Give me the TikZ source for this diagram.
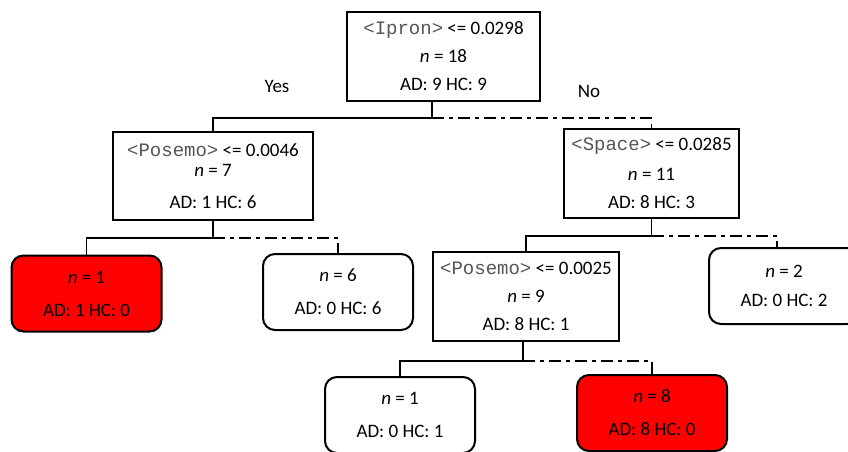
\documentclass[tikz,border=0pt]{standalone}
\usepackage{fontspec}
\setmainfont{Carlito}
\setmonofont{Liberation Mono}
\usepackage{xcolor}
\definecolor{leafred}{RGB}{255, 0, 0}
\definecolor{vargray}{RGB}{85, 85, 85}
\usepackage{tikz}
\usetikzlibrary{calc}
\newcommand{\feat}[1]{{\ttfamily\color{vargray}<#1>}}

\begin{document}
\begin{tikzpicture}[x=0.5pt, y=-0.5pt,
      splitbox/.style={rectangle, draw=black, line width=1pt, fill=white, align=center, font=\fontsize{9.5}{14}\selectfont},
      leafw/.style={rectangle, rounded corners=6pt, draw=black, line width=1pt, fill=white, align=center, font=\fontsize{9.5}{14}\selectfont, minimum width=75pt, minimum height=38pt},
      leafr/.style={leafw, fill=leafred},
      yesline/.style={line width=0.6pt},
      noline/.style={line width=0.6pt, dash pattern=on 6pt off 2.5pt on 2pt off 2.5pt},
      lbl/.style={font=\fontsize{9.5}{12}\selectfont}
  ]
    \useasboundingbox (0,0) rectangle (848,451);

    % Splits
    \node[splitbox, minimum width=96.5pt, minimum height=44.5pt] (root) at (443.5, 56.5) {\feat{Ipron} <= 0.0298\\ \textit{n} = 18\\ AD: 9 HC: 9};
    \node[splitbox, minimum width=100pt, minimum height=44pt] (posA) at (213, 176) {\feat{Posemo} <= 0.0046\\[-4pt] \textit{n} = 7\\[2pt] AD: 1 HC: 6};
    \node[splitbox, minimum width=87.5pt, minimum height=44.5pt] (space) at (651.5, 173.5) {\feat{Space} <= 0.0285\\[1pt] \textit{n} = 11\\ AD: 8 HC: 3};
    \node[splitbox, minimum width=89pt, minimum height=44.5pt] (posB) at (526, 296.5) {\feat{Posemo} <= 0.0025\\ \textit{n} = 9\\ AD: 8 HC: 1};

    % Leaves
    \node[leafr] (l1) at (86.5, 293.5) {\textit{n} = 1\\[2.5pt] AD: 1 HC: 0};
    \node[leafw] (l2) at (338, 292) {\textit{n} = 6\\[2.5pt] AD: 0 HC: 6};
    \node[leafw] (l3) at (784, 286) {\textit{n} = 2\\[0.5pt] AD: 0 HC: 2};
    \node[leafw] (l4) at (400, 415) {\textit{n} = 1\\[2.5pt] AD: 0 HC: 1};
    \node[leafr] (l5) at (652, 413) {\textit{n} = 8\\[2.5pt] AD: 8 HC: 0};

    % Branch labels
    \node[lbl] (yes) at (277, 86) {Yes};
    \node[lbl] (no) at (589, 91) {No};

    % Connections
    \coordinate (rj) at (432, 118);
    \draw[yesline] (root.south -| rj) -- (rj) -| (posA.north);
    \draw[noline] (rj) -| (space.north);
    \coordinate (aj) at ($(posA.south)+(0,17)$);
    \draw[yesline] (posA.south) -- (aj) -| (l1.north);
    \draw[noline] (aj) -| (l2.north);
    \coordinate (sj) at ($(space.south)+(0,17)$);
    \draw[yesline] (space.south) -- (sj) -| (posB.north);
    \draw[noline] (sj) -| ($(l3.north)+(-7,0)$);
    \coordinate (bj) at ($(posB.south)+(-3,19)$);
    \draw[yesline] (posB.south -| bj) -- (bj) -| (l4.north);
    \draw[noline] (bj) -| (l5.north);
  \end{tikzpicture}
\end{document}
